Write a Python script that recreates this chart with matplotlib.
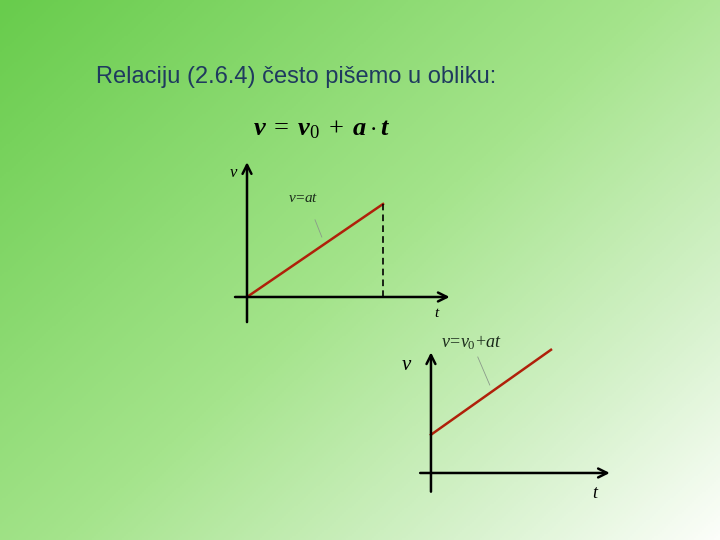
import numpy as np
import matplotlib.pyplot as plt
from matplotlib.colors import LinearSegmentedColormap

plt.rcParams['mathtext.fontset'] = 'custom'
plt.rcParams['mathtext.rm'] = 'Liberation Serif'
plt.rcParams['mathtext.it'] = 'Liberation Serif:italic'
plt.rcParams['mathtext.bf'] = 'Liberation Serif:italic:bold'

# data
title = "Relaciju (2.6.4) često pišemo u obliku:"
equation = r'$\mathbf{v}\;=\;\mathbf{v}_0\;+\;\mathbf{a}\cdot\mathbf{t}$'
t1 = [0.0, 1.0]
v1 = [0.0, 1.0]          # v = a t
t2 = [0.0, 1.0]
v2 = [0.45, 1.45]        # v = v0 + a t
label1 = r'$v\!=\!at$'
label2 = r'$v\!=\!v_0\!+\!at$'

W, H = 720, 540
fig = plt.figure(figsize=(7.2, 5.4), dpi=100)

# background gradient
bg = fig.add_axes([0, 0, 1, 1])
xx, yy = np.meshgrid(np.linspace(0, 1, 360), np.linspace(0, 1, 270))
d = (xx * 0.55 + yy * 0.45)
cmap = LinearSegmentedColormap.from_list('bg', [
    (0.0, (104/255, 204/255, 76/255)),
    (0.5, (165/255, 228/255, 140/255)),
    (0.8, (215/255, 242/255, 205/255)),
    (1.0, (252/255, 254/255, 250/255))])
bg.imshow(d, cmap=cmap, extent=[0, 1, 1, 0], aspect='auto', vmin=0, vmax=1)
bg.set_xlim(0, 1)
bg.set_ylim(1, 0)
bg.axis('off')

fig.text(96 / W, 1 - 77 / H, title, fontsize=17, color='#1f3a5f',
         family='Liberation Sans', va='center', ha='left')
fig.text(322 / W, 1 - 128 / H, equation, fontsize=19, color='black',
         ha='center', va='center')


def px_axes(x0, x1, y0, y1):
    return fig.add_axes([x0 / W, 1 - y1 / H, (x1 - x0) / W, (y1 - y0) / H])


def arrow(ax, start, end):
    ax.annotate('', xy=end, xytext=start,
                arrowprops=dict(arrowstyle='->', color='black', lw=1.8,
                                mutation_scale=16, shrinkA=0, shrinkB=0))


# first graph
ax1 = px_axes(230, 460, 155, 330)
ax1.set_xlim(-0.125, 1.566)
ax1.set_ylim(-0.355, 1.527)
ax1.axis('off')
arrow(ax1, (-0.088, 0), (1.49, 0))
arrow(ax1, (0, -0.27), (0, 1.45))
ax1.plot(t1, v1, color='#b0200a', lw=1.8)
ax1.plot([t1[-1], t1[-1]], [0, v1[-1]], color='black', lw=1.2, ls=(0, (4, 2.5)))
ax1.text(-0.096, 1.34, r'$v$', fontsize=12, ha='center', va='center')
ax1.text(1.40, -0.17, r'$t$', fontsize=11, ha='center', va='center')
ax1.text(0.41, 1.075, label1, fontsize=11, ha='center', va='center', color='#1a2a1a')
ax1.plot([0.5, 0.55], [0.83, 0.645], color='#8a9a8a', lw=0.6)

# second graph
ax2 = px_axes(415, 620, 340, 500)
ax2.set_xlim(-0.133, 1.575)
ax2.set_ylim(-0.318, 1.565)
ax2.axis('off')
arrow(ax2, (-0.09, 0), (1.49, 0))
arrow(ax2, (0, -0.22), (0, 1.42))
ax2.plot(t2, v2, color='#b0200a', lw=1.8)
ax2.text(-0.2, 1.28, r'$v$', fontsize=15, ha='center', va='center')
ax2.text(1.375, -0.235, r'$t$', fontsize=13, ha='center', va='center')
ax2.text(0.342, 1.53, label2, fontsize=13, ha='center', va='center',
         color='#1a2a1a', clip_on=False)
ax2.plot([0.39, 0.49], [1.365, 1.035], color='#8a9a8a', lw=0.6)

fig.savefig('out.png', dpi=100)
